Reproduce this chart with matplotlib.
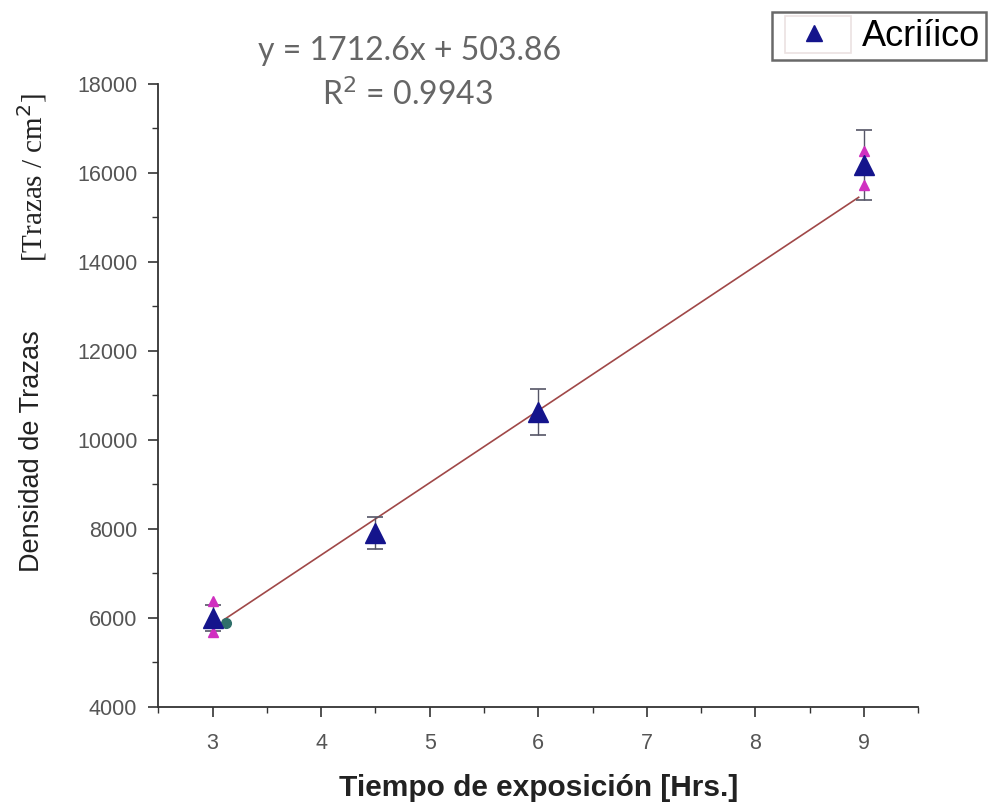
import numpy as np
import matplotlib
matplotlib.use('Agg')
import matplotlib.pyplot as plt
from matplotlib.ticker import MultipleLocator
from matplotlib.patches import Rectangle

# datos
tiempo = [3, 4.5, 6, 9]
densidad = [6000, 7910, 10630, 16180]
error = [300, 360, 520, 780]
# marcadores magenta (replicas)
rep_x = [3, 3, 9, 9]
rep_y = [6380, 5680, 16480, 15720]
# recta de ajuste dibujada
fit_x = [3.1, 8.95]
fit_y = [5950, 15450]

fig = plt.figure(figsize=(9.95, 8.06), dpi=100)
ax = fig.add_axes([0.159, 0.123, 0.764, 0.773])

ax.plot(fit_x, fit_y, color='#a04848', lw=1.2, zorder=2)
ax.errorbar(tiempo, densidad, yerr=error, fmt='none', ecolor='#555566',
            elinewidth=1.0, capsize=6, capthick=1.2, zorder=3)
ax.plot(rep_x, rep_y, linestyle='none', marker='^', ms=7, color='#d030c0', zorder=4)
ax.plot([3.12], [5880], linestyle='none', marker='o', ms=7, color='#2f6f6a', zorder=4)
ax.plot(tiempo, densidad, linestyle='none', marker='^', ms=14, color='#14148c',
        label='Acriíico', zorder=5)

ax.set_xlim(2.5, 9.5)
ax.set_ylim(4000, 18000)
ax.xaxis.set_major_locator(MultipleLocator(1))
ax.xaxis.set_minor_locator(MultipleLocator(0.5))
ax.yaxis.set_major_locator(MultipleLocator(2000))
ax.yaxis.set_minor_locator(MultipleLocator(1000))
ax.spines['top'].set_visible(False)
ax.spines['right'].set_visible(False)
for s in ['left', 'bottom']:
    ax.spines[s].set_linewidth(1.3)
    ax.spines[s].set_color('#333333')
ax.tick_params(which='major', direction='out', length=7, width=1.2, color='#333333',
               labelcolor='#555555', labelsize=15.5, pad=8)
ax.tick_params(axis='x', which='major', pad=12)
ax.tick_params(which='minor', direction='out', length=4, width=1.0, color='#333333')
for lab in ax.get_xticklabels() + ax.get_yticklabels():
    lab.set_fontfamily('Liberation Sans')

ax.set_xlabel('Tiempo de exposición [Hrs.]', fontsize=21.5, fontweight='bold',
              family='Liberation Sans', color='#222222', labelpad=14)

fig.text(0.032, 0.44, 'Densidad de Trazas', rotation=90, ha='center', va='center',
         fontsize=19.5, family='Liberation Sans', color='#222222')
fig.text(0.032, 0.78, '[Trazas / cm$^2$]', rotation=90, ha='center', va='center',
         fontsize=21, family='Liberation Serif', color='#222222')

fig.text(0.412, 0.937, 'y = 1712.6x + 503.86', ha='center', va='center',
         fontsize=23, family='Lato', color='#666666')
fig.text(0.41, 0.883, 'R$^2$ = 0.9943', ha='center', va='center',
         fontsize=23, family='Lato', color='#666666')

leg = fig.legend(loc='upper left', bbox_to_anchor=(0.776, 0.985), frameon=True,
                 fancybox=False, edgecolor='#444444', borderaxespad=0,
                 prop={'family': 'Liberation Sans', 'size': 26},
                 handlelength=1.95, borderpad=0.18, handletextpad=0.35)
leg.get_frame().set_linewidth(1.8)
leg.legend_handles[0].set_markersize(11)
fig.add_artist(Rectangle((785 / 995, 1 - 53 / 806), 66 / 995, 37 / 806,
                         transform=fig.transFigure, fill=False,
                         edgecolor='#a07070', lw=1.2))

fig.savefig('out.png', dpi=100)
